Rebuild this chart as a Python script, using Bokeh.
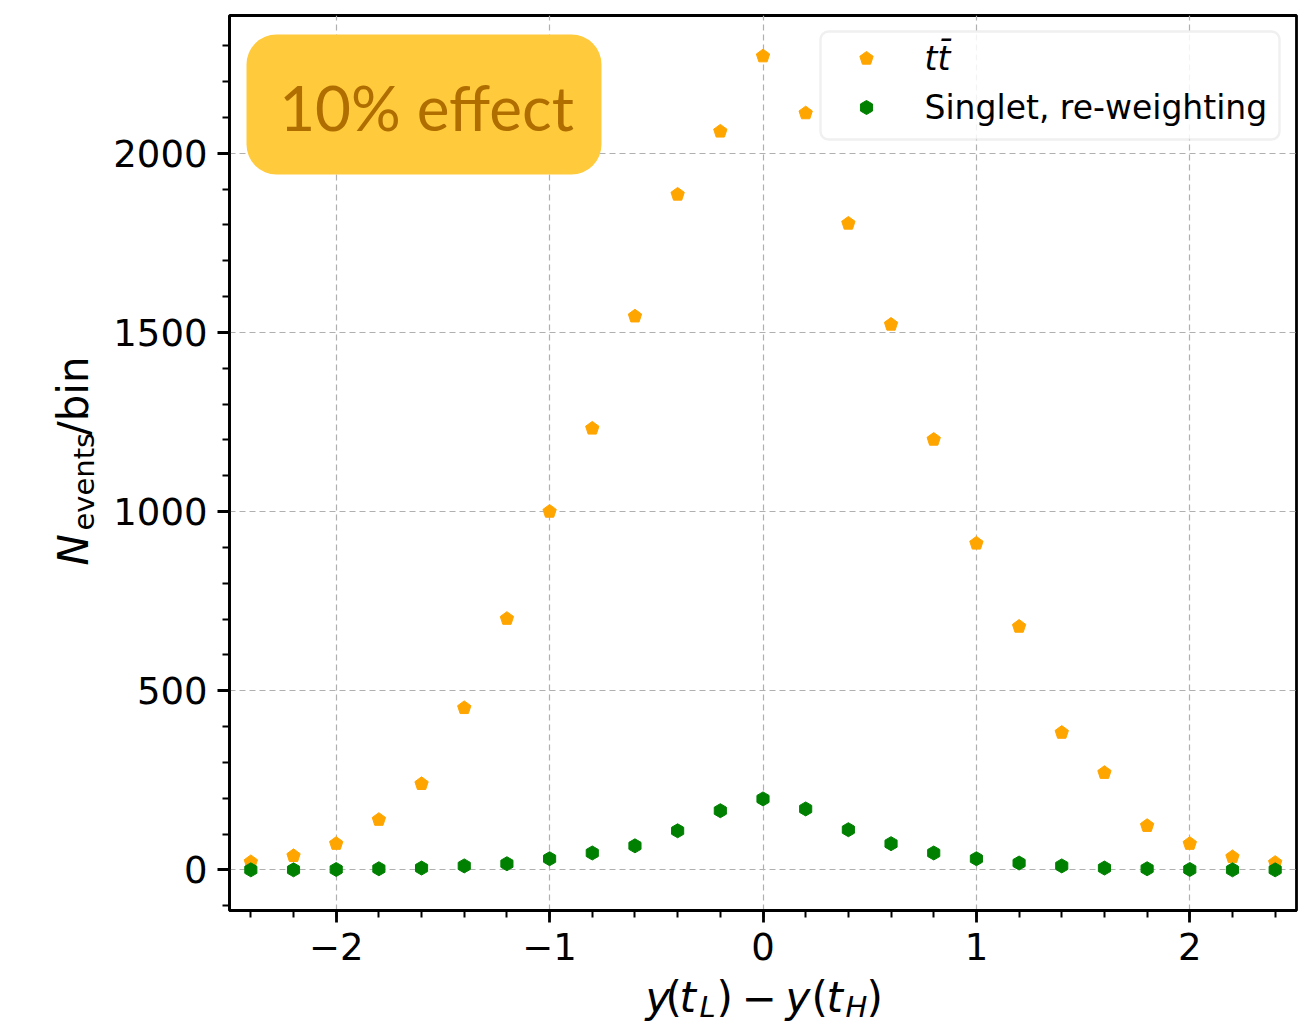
import math
from bokeh.plotting import figure
from bokeh.layouts import row, column
from bokeh.models import (Range1d, SingleIntervalTicker, CustomJSTickFormatter,
                          Label, BoxAnnotation)
from bokeh.embed import file_html
from bokeh.resources import INLINE

# ---------------- data ----------------
x_vals = [-2.4, -2.2, -2.0, -1.8, -1.6, -1.4, -1.2, -1.0, -0.8, -0.6, -0.4, -0.2,
          0.0, 0.2, 0.4, 0.6, 0.8, 1.0, 1.2, 1.4, 1.6, 1.8, 2.0, 2.2, 2.4]
ttbar = [22, 39, 73, 140, 240, 452, 701, 1000, 1232, 1545, 1885, 2061,
         2271, 2112, 1804, 1522, 1201, 911, 679, 383, 271, 123, 73, 36, 20]
singlet = [0, 0, 1, 3, 5, 11, 17, 31, 47, 67, 109, 165,
           198, 170, 112, 73, 47, 31, 19, 11, 5, 3, 1, 0, 0]
series_names = ["tt\u0304", "Singlet, re-weighting"]
series_colors = ["orange", "green"]
box_text = "10% effect"

# ---------------- layout (page pixels) ----------------
YL_W = 110
MAIN_W, MAIN_H = 1200, 978
XL_H = 44
TOT_H = MAIN_H + XL_H
FL, FR, FT, FB = 229, 1296, 15, 910
X0, X1 = -2.5, 2.5
Y0, Y1 = -113.5, 2384.5


def dx(px):
    return X0 + (px - FL) / (FR - FL) * (X1 - X0)


def dy(py):
    return Y0 + (FB - py) / (FB - FT) * (Y1 - Y0)


p = figure(width=MAIN_W, height=MAIN_H, output_backend="svg", toolbar_location=None,
           x_range=Range1d(X0, X1), y_range=Range1d(Y0, Y1),
           min_border_left=FL - YL_W, min_border_right=YL_W + MAIN_W - FR,
           min_border_top=FT, min_border_bottom=MAIN_H - FB)
p.background_fill_color = "white"
p.border_fill_color = "white"
p.outline_line_color = "black"
p.outline_line_width = 2.8

p.xaxis.ticker = SingleIntervalTicker(interval=1, num_minor_ticks=5)
p.yaxis.ticker = SingleIntervalTicker(interval=500, num_minor_ticks=5)
fmt = CustomJSTickFormatter(code="""
    const v = Math.round(tick);
    return (v < 0 ? "\\u2212" : "") + Math.abs(v).toString();
""")
p.xaxis.formatter = fmt
p.yaxis.formatter = fmt
for ax in (p.xaxis, p.yaxis):
    ax.axis_line_width = 2.8
    ax.axis_line_color = "black"
    ax.major_tick_line_width = 2.8
    ax.major_tick_out = 12
    ax.major_tick_in = 0
    ax.minor_tick_line_width = 2.0
    ax.minor_tick_out = 7
    ax.minor_tick_in = 0
    ax.major_label_text_font = "DejaVu Sans"
    ax.major_label_text_font_size = "37px"
    ax.major_label_text_color = "black"
    ax.major_label_standoff = 10

p.grid.grid_line_color = "#b0b0b0"
p.grid.grid_line_dash = "6 4"
p.grid.grid_line_width = 1.2

# ---------------- markers ----------------
p.ngon(x=x_vals, y=ttbar, radius=7, radius_units="screen", n=5,
       angle=0, fill_color=series_colors[0], line_color=series_colors[0])
p.ngon(x=x_vals, y=singlet, radius=7, radius_units="screen", n=6,
       angle=0, fill_color=series_colors[1], line_color=series_colors[1])

# ---------------- "10% effect" box ----------------
p.add_layout(BoxAnnotation(left=dx(246), right=dx(601), top=dy(34), bottom=dy(174),
                           fill_color="#FFCA3C", fill_alpha=1.0, line_color=None,
                           border_radius=30))
p.add_layout(Label(x=dx(426), y=dy(106), text=box_text, text_align="center",
                   text_baseline="middle", text_font="Lato",
                   text_font_size="62px", text_color="#B06E00"))

# ---------------- legend (manual) ----------------
p.add_layout(BoxAnnotation(left=dx(820), right=dx(1279), top=dy(31), bottom=dy(139),
                           fill_color="white", fill_alpha=0.85, line_color="#cccccc",
                           line_width=2.5, border_radius=8))
r1 = p.ngon(x=[dx(866)], y=[dy(58)], radius=7, radius_units="screen", n=5,
            angle=0, fill_color=series_colors[0], line_color=series_colors[0])
r2 = p.ngon(x=[dx(866)], y=[dy(107)], radius=7, radius_units="screen", n=6,
            angle=0, fill_color=series_colors[1], line_color=series_colors[1])
r1.level = "overlay"
r2.level = "overlay"
p.add_layout(Label(x=dx(924), y=dy(58), text=series_names[0], text_baseline="middle",
                   text_font="DejaVu Sans", text_font_style="italic",
                   text_font_size="33px", text_color="black"))
p.add_layout(Label(x=dx(924), y=dy(107), text=series_names[1], text_baseline="middle",
                   text_font="DejaVu Sans",
                   text_font_size="33px", text_color="black"))


# ---------------- axis-label strips (data units = page pixels) ----------------
def strip(w, h, xr, yr, bl, br):
    f = figure(width=w, height=h, output_backend="svg", toolbar_location=None,
               x_range=xr, y_range=yr,
               x_axis_location=None, y_axis_location=None,
               min_border=0, min_border_left=bl, min_border_right=br,
               min_border_top=0, min_border_bottom=0)
    f.outline_line_color = None
    f.grid.visible = False
    f.background_fill_color = "white"
    f.border_fill_color = "white"
    return f


xl = strip(MAIN_W, XL_H, Range1d(FL, FR), Range1d(TOT_H, MAIN_H),
           FL - YL_W, YL_W + MAIN_W - FR)
yl = strip(YL_W, TOT_H, Range1d(0, YL_W), Range1d(TOT_H, 0), 0, 0)


def piece(fig, px, py, txt, size, italic=False, angle=0.0):
    fig.add_layout(Label(x=px, y=py, text=txt, angle=angle,
                         text_baseline="alphabetic", text_font="DejaVu Sans",
                         text_font_style="italic" if italic else "normal",
                         text_font_size=f"{size}px", text_color="black"))


# x label: y(t_L) - y(t_H)
XB, XS = 997, 1006
piece(xl, 645, XB, "y", 42, True)
piece(xl, 665, XB, "(", 42)
piece(xl, 679, XB, "t", 42, True)
piece(xl, 699, XS, "L", 29, True)
piece(xl, 716, XB, ")", 42)
piece(xl, 741, XB, "\u2212", 42)
piece(xl, 785, XB, "y", 42, True)
piece(xl, 811, XB, "(", 42)
piece(xl, 826, XB, "t", 42, True)
piece(xl, 845, XS, "H", 29, True)
piece(xl, 866, XB, ")", 42)

# y label: N_events/bin (rotated)
A = math.pi / 2
piece(yl, 73, 565, "N", 42, True, A)
piece(yl, 83, 530, "events", 29, False, A)
piece(yl, 73, 435, "/bin", 42, False, A)

layout = row(yl, column(p, xl))
open("out.html", "w").write(file_html(layout, INLINE))
